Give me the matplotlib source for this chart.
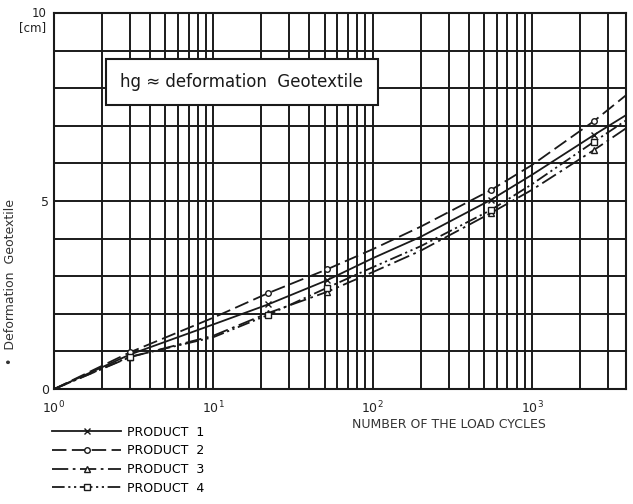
import matplotlib.pyplot as plt
from matplotlib.ticker import FixedLocator, LogLocator, NullFormatter

# load cycles where the curves were read
cycles = [1, 3, 10, 22, 52, 100, 200, 550, 1000, 2450, 3900]

# deformation of the geotextile [cm]
product1 = [0, 0.92, 1.72, 2.25, 2.90, 3.48, 4.05, 5.03, 5.70, 6.76, 7.29]
product2 = [0, 0.98, 1.90, 2.55, 3.19, 3.72, 4.32, 5.29, 5.96, 7.13, 7.82]
product3 = [0, 0.85, 1.42, 2.02, 2.59, 3.11, 3.68, 4.68, 5.30, 6.36, 6.94]
product4 = [0, 0.86, 1.38, 1.97, 2.70, 3.24, 3.80, 4.76, 5.45, 6.58, 7.15]

# indices of measured points (markers)
measured = [1, 3, 4, 7, 9]

labels = ["PRODUCT  1", "PRODUCT  2", "PRODUCT  3", "PRODUCT  4"]
xtick_vals = [1, 10, 100, 1000]
xtick_text = ["$10^0$", "$10^1$", "$10^2$", "$10^3$"]

plt.rcParams['font.family'] = ['DejaVu Sans']

fig = plt.figure(figsize=(6.33, 5.04), dpi=100)
ax = fig.add_axes([0.0853, 0.228, 0.904, 0.746])

styles = [
    dict(ls='-', marker='x'),
    dict(ls=(0, (8, 3)), marker='o'),
    dict(ls=(0, (9, 2.5, 1.5, 2.5)), marker='^'),
    dict(ls=(0, (7, 2, 1.2, 2, 1.2, 2)), marker='s'),
]
series = [product1, product2, product3, product4]
for ys, st, lab in zip(series, styles, labels):
    ax.plot(cycles, ys, color='#1a1a1a', lw=1.3, markevery=measured,
            ms=4, mfc='white', mec='#1a1a1a', mew=1.0, label=lab, **st)

ax.set_xscale('log')
ax.set_xlim(1, 3900)
ax.set_ylim(0, 10)

ax.xaxis.set_major_locator(FixedLocator(xtick_vals))
ax.set_xticklabels(xtick_text)
ax.xaxis.set_minor_locator(LogLocator(base=10, subs=range(2, 10)))
ax.xaxis.set_minor_formatter(NullFormatter())
ax.yaxis.set_major_locator(FixedLocator([0, 5, 10]))
ax.yaxis.set_minor_locator(FixedLocator(range(0, 11)))
ax.set_yticklabels(["0", "5", ""])

ax.grid(which='both', color='#1a1a1a', lw=1.4)
ax.set_axisbelow(True)
ax.tick_params(which='both', length=0, labelsize=9, colors='#222222')
ax.tick_params(axis='x', pad=8)
for sp in ax.spines.values():
    sp.set_linewidth(1.5)
    sp.set_color('#1a1a1a')

fig.text(0.0853 - 0.012, 0.974, "10", ha='right', va='center', fontsize=8.5, color='#222222')
fig.text(0.0853 - 0.012, 0.946, "[cm]", ha='right', va='center', fontsize=8.5, color='#222222')

ax.text(0.116, 0.816, "hg ≈ deformation  Geotextile", transform=ax.transAxes,
        fontsize=12, va='center', ha='left', color='#1a1a1a', zorder=5,
        bbox=dict(boxstyle='square,pad=0.85', fc='white', ec='#1a1a1a', lw=1.5))

fig.text(0.016, 0.44, "•  Deformation  Geotextile", rotation=90, ha='center', va='center',
         fontsize=9, color='#333333')
fig.text(0.71, 0.157, "NUMBER OF THE LOAD CYCLES", ha='center', va='center',
         fontsize=9, color='#333333')

fig.legend(loc='upper left', bbox_to_anchor=(0.075, 0.165), frameon=False,
           handlelength=5.5, numpoints=1, fontsize=9, labelspacing=0.45,
           handletextpad=0.5, borderaxespad=0)

fig.savefig("out.png", dpi=100)
